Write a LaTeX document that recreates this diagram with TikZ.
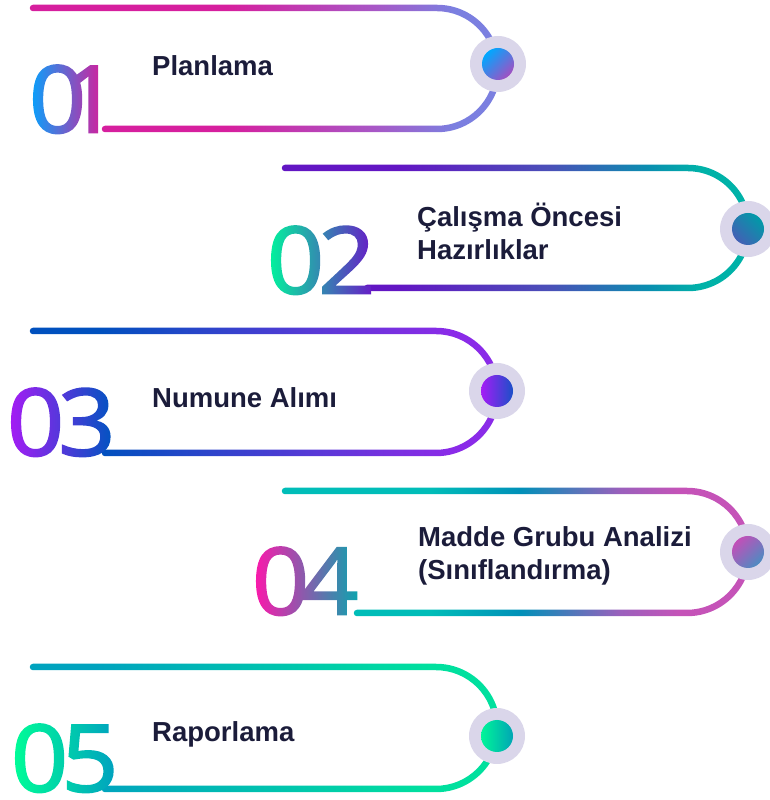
\documentclass[tikz,border=0pt]{standalone}
\usepackage{fontspec}
\usetikzlibrary{fadings}
\newfontfamily\numfont[FakeBold=2]{Open Sans}
\newfontfamily\lblfont{Liberation Sans}
% line colours
\definecolor{a1}{HTML}{D61F9E}\definecolor{a2}{HTML}{A857C6}\definecolor{a3}{HTML}{7B7FE0}
\definecolor{b1}{HTML}{6216C3}\definecolor{b2}{HTML}{4A50B8}\definecolor{b3}{HTML}{0A8EB0}\definecolor{b4}{HTML}{00B2A8}
\definecolor{c1}{HTML}{0050BE}\definecolor{c2}{HTML}{7A30E0}\definecolor{c3}{HTML}{8A2BE8}
\definecolor{d1}{HTML}{00BDB8}\definecolor{d2}{HTML}{0090B8}\definecolor{d3}{HTML}{9A60BC}\definecolor{d4}{HTML}{C553B8}
\definecolor{e1}{HTML}{00A3BE}\definecolor{e2}{HTML}{00C8AC}\definecolor{e3}{HTML}{00E09E}
% number colours
\definecolor{n1a}{HTML}{00A6FF}\definecolor{n1b}{HTML}{D61E9B}
\definecolor{n2a}{HTML}{00F59C}\definecolor{n2b}{HTML}{6A16C8}
\definecolor{n3a}{HTML}{A71CF5}\definecolor{n3b}{HTML}{0054C0}
\definecolor{n4a}{HTML}{FF17AB}\definecolor{n4b}{HTML}{00ABAE}
\definecolor{n5a}{HTML}{00FF96}\definecolor{n5b}{HTML}{00A0C0}
% disc colours
\definecolor{k1a}{HTML}{00A8FF}\definecolor{k1b}{HTML}{A24FC2}
\definecolor{k2a}{HTML}{4360B5}\definecolor{k2b}{HTML}{009AA8}
\definecolor{k3a}{HTML}{A51CF6}\definecolor{k3b}{HTML}{1A50C8}
\definecolor{k4a}{HTML}{C24FB8}\definecolor{k4b}{HTML}{4C8CC2}
\definecolor{k5a}{HTML}{00F598}\definecolor{k5b}{HTML}{00A5B5}
\definecolor{ringgray}{HTML}{DAD6EA}
\definecolor{lblc}{HTML}{1B1C3A}

\pgfdeclarehorizontalshading{lineA}{100bp}{color(0bp)=(a1); color(46bp)=(a1); color(61.5bp)=(a2); color(70bp)=(a3); color(100bp)=(a3)}
\pgfdeclarehorizontalshading{lineB}{100bp}{color(0bp)=(b1); color(37.6bp)=(b1); color(53.6bp)=(b2); color(64bp)=(b3); color(69.6bp)=(b4); color(100bp)=(b4)}
\pgfdeclarehorizontalshading{lineC}{100bp}{color(0bp)=(c1); color(32.4bp)=(c1); color(64bp)=(c2); color(69.7bp)=(c3); color(100bp)=(c3)}
\pgfdeclarehorizontalshading{lineD}{100bp}{color(0bp)=(d1); color(40.8bp)=(d1); color(50.4bp)=(d2); color(61bp)=(d3); color(67.4bp)=(d4); color(100bp)=(d4)}
\pgfdeclarehorizontalshading{lineE}{100bp}{color(0bp)=(e1); color(32bp)=(e1); color(53.7bp)=(e2); color(67.5bp)=(e3); color(100bp)=(e3)}

\newcommand\numbox[3]{\hbox to 160pt{\vrule width0pt height100pt depth0pt\color{white}\numfont\fontsize{100}{100}\selectfont #1\kern#3pt #2\hss}}
\pgfdeclarefading{fadeA}{\numbox{0}{1}{-24}}
\pgfdeclarefading{fadeB}{\numbox{0}{2}{-6}}
\pgfdeclarefading{fadeC}{\numbox{0}{3}{-6}}
\pgfdeclarefading{fadeD}{\numbox{0}{4}{-8}}
\pgfdeclarefading{fadeE}{\numbox{0}{5}{-7}}

\newcommand\lw{3.25}
% #1 shading, #2 xt, #3 xb, #4 cx, #5 Yt, #6 Yb
\newcommand\hairpin[6]{%
  \shade[shading=#1] (#2,{#5+\lw}) -- (#4,{#5+\lw})
    arc[start angle=90,end angle=-90,radius={(#5-#6)/2+\lw}]
    -- (#3,{#6-\lw}) arc[start angle=270,end angle=90,radius=\lw]
    -- (#4,{#6+\lw}) arc[start angle=-90,end angle=90,radius={(#5-#6)/2-\lw}]
    -- (#2,{#5-\lw}) arc[start angle=270,end angle=90,radius=\lw] -- cycle;}

\begin{document}
\begin{tikzpicture}[x=1pt,y=1pt,
  lbl/.style={font=\lblfont\bfseries\fontsize{27.5}{33}\selectfont, text=lblc, inner sep=0pt, anchor=base west, align=left},
  ring/.style={fill=ringgray},
  num/.style={path fading=#1, fit fading=false}]
\useasboundingbox (0,0) rectangle (770,800);

% hairpin outlines
\hairpin{lineA}{33}{105}{437}{792}{671}
\hairpin{lineB}{285}{367}{688}{632}{512}
\hairpin{lineC}{33}{105}{436}{469}{347}
\hairpin{lineD}{285}{357}{687}{309}{187}
\hairpin{lineE}{33}{105}{436}{133}{11}

% rings and discs
\fill[ring] (498,736) circle[radius=28];
\shade[left color=k1a, right color=k1b, shading angle=45] (498,736) circle[radius=16];
\fill[ring] (748,571) circle[radius=28];
\shade[left color=k2a, right color=k2b, shading angle=135] (748,571) circle[radius=16];
\fill[ring] (497,409) circle[radius=28];
\shade[left color=k3a, right color=k3b] (497,409) circle[radius=16];
\fill[ring] (748,248) circle[radius=28];
\shade[left color=k4a, right color=k4b, shading angle=45] (748,248) circle[radius=16];
\fill[ring] (497,64) circle[radius=28];
\shade[left color=k5a, right color=k5b] (497,64) circle[radius=16];

% gradient numbers
\shade[left color=n1a, right color=n1b, num=fadeA, fading transform={shift={(109,713.5)}, yscale=0.93}] (28,660) rectangle (103,744);
\shade[left color=n2a, right color=n2b, num=fadeB, fading transform={shift={(347,552.5)}, yscale=0.93}] (268,500) rectangle (375,584);
\shade[left color=n3a, right color=n3b, num=fadeC, fading transform={shift={(87,390.5)}, yscale=0.93}] (8,338) rectangle (113,423);
\shade[left color=n4a, right color=n4b, num=fadeD, fading transform={shift={(332,231.5)}, yscale=0.93}] (253,180) rectangle (363,261);
\shade[left color=n5a, right color=n5b, num=fadeE, fading transform={shift={(91,54.5)}, yscale=0.93}] (11,2) rectangle (117,84);

% labels
\node[lbl] (t1) at (152,724) {Planlama};
\node[lbl] (t2) at (417,540) {Çalışma Öncesi\\Hazırlıklar};
\node[lbl] (t3) at (152,392) {Numune Alımı};
\node[lbl] (t4) at (418,220) {Madde Grubu Analizi\\(Sınıflandırma)};
\node[lbl] (t5) at (152,58) {Raporlama};
\end{tikzpicture}
\end{document}
